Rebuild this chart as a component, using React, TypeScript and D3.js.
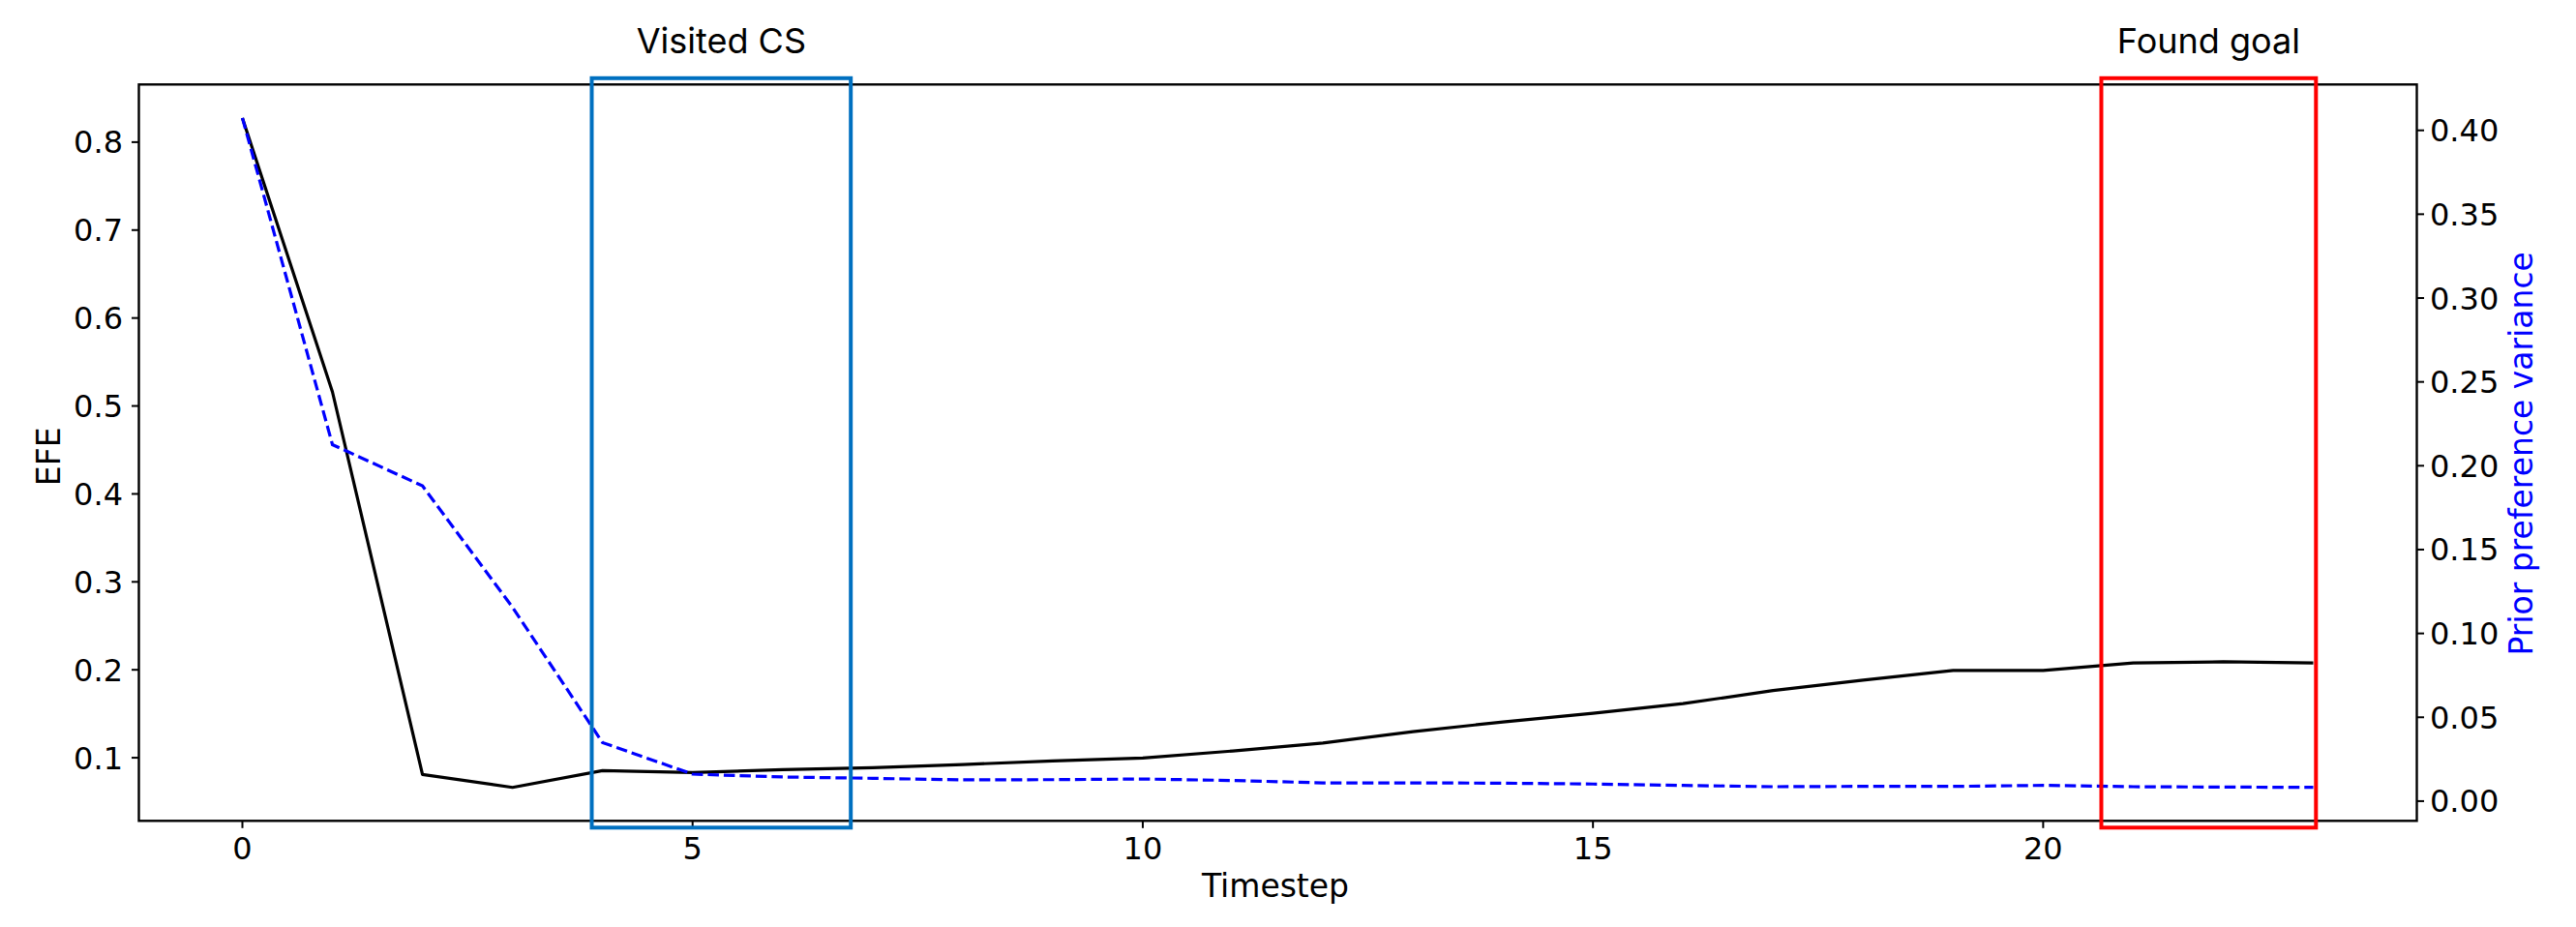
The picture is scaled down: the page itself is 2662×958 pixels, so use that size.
import React from "react";
import * as d3 from "d3";

const steps = d3.range(0, 24);
const efe = [
  0.8275, 0.516, 0.081, 0.0663, 0.0854, 0.0832, 0.0865, 0.0887, 0.0923, 0.0963,
  0.0997, 0.1077, 0.1168, 0.1297, 0.1407, 0.1505, 0.1615, 0.1764, 0.1883, 0.1992,
  0.1992, 0.2077, 0.2091, 0.2077,
];
const variance = [
  0.4074, 0.2126, 0.188, 0.1156, 0.0349, 0.0161, 0.0144, 0.0136, 0.0127, 0.0128,
  0.0132, 0.0123, 0.0109, 0.0109, 0.0107, 0.0102, 0.0094, 0.0086, 0.0088, 0.0088,
  0.0094, 0.0086, 0.0084, 0.0082,
];
const xTicks = [0, 5, 10, 15, 20];
const leftTicks = [0.1, 0.2, 0.3, 0.4, 0.5, 0.6, 0.7, 0.8];
const rightTicks = [0, 0.05, 0.1, 0.15, 0.2, 0.25, 0.3, 0.35, 0.4];
const boxLabels = ["Visited CS", "Found goal"];
const boxStart = [3.88, 20.646];
const boxEnd = [6.757, 23.03];
const boxColors = ["#0070C0", "#FF0000"];

const W = 2662;
const H = 958;
const M = { left: 143.5, right: 2497.5, top: 87.3, bottom: 848.3 };

function padded(vals: number[]): [number, number] {
  const [lo, hi] = d3.extent(vals) as [number, number];
  const m = (hi - lo) * 0.05;
  return [lo - m, hi + m];
}

export default function App() {
  const x = d3.scaleLinear().domain(padded(steps)).range([M.left, M.right]);
  const yL = d3.scaleLinear().domain(padded(efe)).range([M.bottom, M.top]);
  const yR = d3.scaleLinear().domain(padded(variance)).range([M.bottom, M.top]);

  const lineL = d3
    .line<number>()
    .x((_, i) => x(steps[i]))
    .y((d) => yL(d));
  const lineR = d3
    .line<number>()
    .x((_, i) => x(steps[i]))
    .y((d) => yR(d));

  const tickFont = "DejaVu Sans";
  const tickSize = 32;
  const labelSize = 33;
  const tickLen = 7.5;

  return (
    <svg
      width={W}
      height={H}
      style={{ position: "absolute", left: 0, top: 0, background: "#fff" }}
      xmlns="http://www.w3.org/2000/svg"
    >
      <rect x={0} y={0} width={W} height={H} fill="#fff" />
      <path d={lineL(efe) || ""} fill="none" stroke="#000" strokeWidth={3.2} strokeLinejoin="round" />
      <path
        d={lineR(variance) || ""}
        fill="none"
        stroke="#0000ff"
        strokeWidth={3.2}
        strokeDasharray="11.5 5"
      />
      <rect
        x={M.left}
        y={M.top}
        width={M.right - M.left}
        height={M.bottom - M.top}
        fill="none"
        stroke="#000"
        strokeWidth={2.4}
      />
      {xTicks.map((t) => (
        <g key={"x" + t}>
          <line x1={x(t)} x2={x(t)} y1={M.bottom} y2={M.bottom + tickLen} stroke="#000" strokeWidth={2} />
          <text
            x={x(t)}
            y={887.5}
            textAnchor="middle"
            fontFamily={tickFont}
            fontSize={tickSize}
            fill="#000"
          >
            {t}
          </text>
        </g>
      ))}
      {leftTicks.map((t) => (
        <g key={"l" + t}>
          <line x1={M.left - tickLen} x2={M.left} y1={yL(t)} y2={yL(t)} stroke="#000" strokeWidth={2} />
          <text
            x={127}
            y={yL(t)}
            dy="0.36em"
            textAnchor="end"
            fontFamily={tickFont}
            fontSize={tickSize}
            fill="#000"
          >
            {d3.format(".1f")(t)}
          </text>
        </g>
      ))}
      {rightTicks.map((t) => (
        <g key={"r" + t}>
          <line x1={M.right} x2={M.right + tickLen} y1={yR(t)} y2={yR(t)} stroke="#000" strokeWidth={2} />
          <text
            x={2511}
            y={yR(t)}
            dy="0.36em"
            textAnchor="start"
            fontFamily={tickFont}
            fontSize={tickSize}
            fill="#000"
          >
            {d3.format(".2f")(t)}
          </text>
        </g>
      ))}
      <text
        x={1318}
        y={927}
        textAnchor="middle"
        fontFamily={tickFont}
        fontSize={labelSize}
        fill="#000"
      >
        Timestep
      </text>
      <text
        transform={`translate(61.5,${(M.top + M.bottom) / 2 + 4}) rotate(-90)`}
        textAnchor="middle"
        fontFamily={tickFont}
        fontSize={labelSize}
        fill="#000"
      >
        EFE
      </text>
      <text
        transform={`translate(2617,${(M.top + M.bottom) / 2 + 1}) rotate(-90)`}
        textAnchor="middle"
        fontFamily={tickFont}
        fontSize={labelSize}
        fill="#0000ff"
      >
        Prior preference variance
      </text>
      {boxLabels.map((lab, i) => {
        const x0 = x(boxStart[i]);
        const x1 = x(boxEnd[i]);
        return (
          <g key={lab}>
            <rect
              x={x0}
              y={M.top - 6.5}
              width={x1 - x0}
              height={M.bottom - M.top + 13.5}
              fill="none"
              stroke={boxColors[i]}
              strokeWidth={4}
            />
            <text
              x={(x0 + x1) / 2}
              y={55}
              textAnchor="middle"
              fontFamily="Inter"
              fontSize={36}
              fill="#000"
            >
              {lab}
            </text>
          </g>
        );
      })}
    </svg>
  );
}
